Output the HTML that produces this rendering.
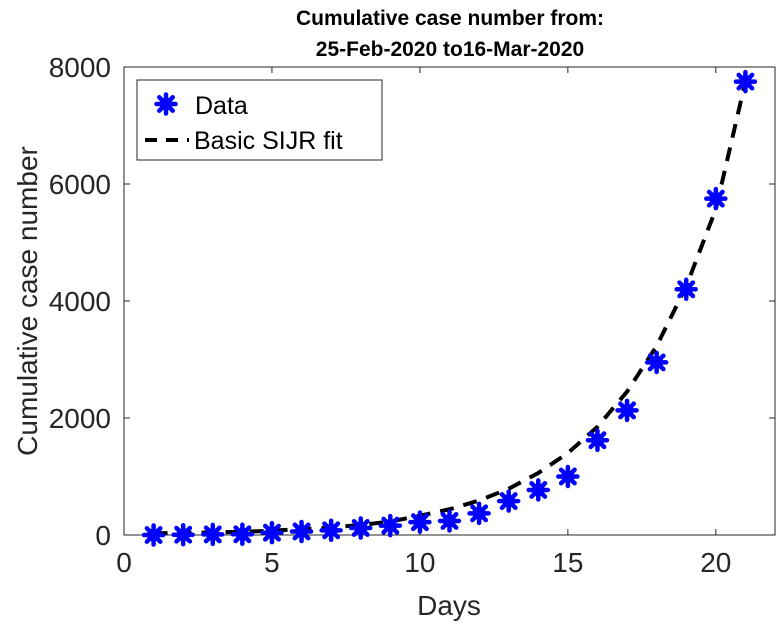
<!DOCTYPE html>
<html><head><meta charset="utf-8"><style>
body{margin:0;background:#fff}
svg{display:block;font-family:"Liberation Sans",Arial,sans-serif}
</style></head><body>
<svg id="chart" width="778" height="627">
<g font-weight="bold" font-size="21" text-anchor="middle" fill="#000">
<text x="450" y="25">Cumulative case number from:</text>
<text x="450" y="56">25-Feb-2020 to16-Mar-2020</text>
</g>
<rect x="124" y="67" width="651" height="468" fill="#fff" stroke="#262626" stroke-width="1"/>
<g id="xticks"></g>
<g id="yticks"></g>
<text x="449" y="615" font-size="28" text-anchor="middle" fill="#262626">Days</text>
<text transform="translate(37,301) rotate(-90)" font-size="28" text-anchor="middle" fill="#262626">Cumulative case number</text>
<g id="series"></g>
<g>
<rect x="137" y="80" width="245" height="80" fill="#fff" stroke="#262626" stroke-width="1"/>
<g>
<g id="legmark"></g>
<text x="195" y="114" font-size="25" fill="#000">Data</text>
</g>
<g>
<line x1="145" y1="140" x2="189" y2="140" stroke="#000" stroke-width="4" stroke-dasharray="12,9"/>
<text x="194" y="149" font-size="25" fill="#000">Basic SIJR fit</text>
</g>
</g>
</svg>
<script>
const days=[1,2,3,4,5,6,7,8,9,10,11,12,13,14,15,16,17,18,19,20,21];
const dataValues=[0,5,10,12,40,60,80,120,160,220,240,370,580,770,1000,1620,2130,2950,4200,5750,7750];
const fitValues=[30,35,45,55,75,100,130,170,230,330,440,590,790,1060,1400,1850,2450,3230,4250,5570,7750];
const xTicks=[0,5,10,15,20];
const yTicks=[0,2000,4000,6000,8000];
const X0=124,X1=775,Y0=535,Y1=67,XMAX=22,YMAX=8000;
const sx=v=>X0+v/XMAX*(X1-X0);
const sy=v=>Y0-v/YMAX*(Y0-Y1);
const NS="http://www.w3.org/2000/svg";
function mk(t,a,p){const e=document.createElementNS(NS,t);for(const k in a)e.setAttribute(k,a[k]);p.appendChild(e);return e;}
const xg=document.getElementById('xticks'),yg=document.getElementById('yticks');
xTicks.forEach(t=>{const x=sx(t);
 mk('line',{x1:x,y1:Y0,x2:x,y2:Y0-6,stroke:'#262626'},xg);
 mk('line',{x1:x,y1:Y1,x2:x,y2:Y1+6,stroke:'#262626'},xg);
 const tx=mk('text',{x:x,y:Y0+37,'font-size':28,'text-anchor':'middle',fill:'#262626'},xg);tx.textContent=t;
 
 });
yTicks.forEach(t=>{const y=sy(t);
 mk('line',{x1:X0,y1:y,x2:X0+6,y2:y,stroke:'#262626'},yg);
 mk('line',{x1:X1,y1:y,x2:X1-6,y2:y,stroke:'#262626'},yg);
 const tx=mk('text',{x:X0-13,y:y+10,'font-size':28,'text-anchor':'end',fill:'#262626'},yg);tx.textContent=t;
 
 });
const sg=document.getElementById('series');
const pts=days.map((d,i)=>sx(d)+','+sy(fitValues[i])).join(' ');
const fl=mk('polyline',{points:pts,fill:'none',stroke:'#000','stroke-width':4,'stroke-dasharray':'14,10'},sg);


function star(cx,cy,p){const g=mk('g',{},p);
 mk('circle',{cx:cx,cy:cy,r:6.5,fill:'#0000ff'},g);
 for(let k=0;k<4;k++){const a=k*Math.PI/4,r=9.5;
  mk('line',{x1:cx-r*Math.cos(a),y1:cy-r*Math.sin(a),x2:cx+r*Math.cos(a),y2:cy+r*Math.sin(a),stroke:'#0000ff','stroke-width':4.5,'stroke-linecap':'round'},g);}
 return g;}
days.forEach((d,i)=>{const g=star(sx(d),sy(dataValues[i]),sg);
 
 });
star(166,104,document.getElementById('legmark'));
</script>
</body></html>
